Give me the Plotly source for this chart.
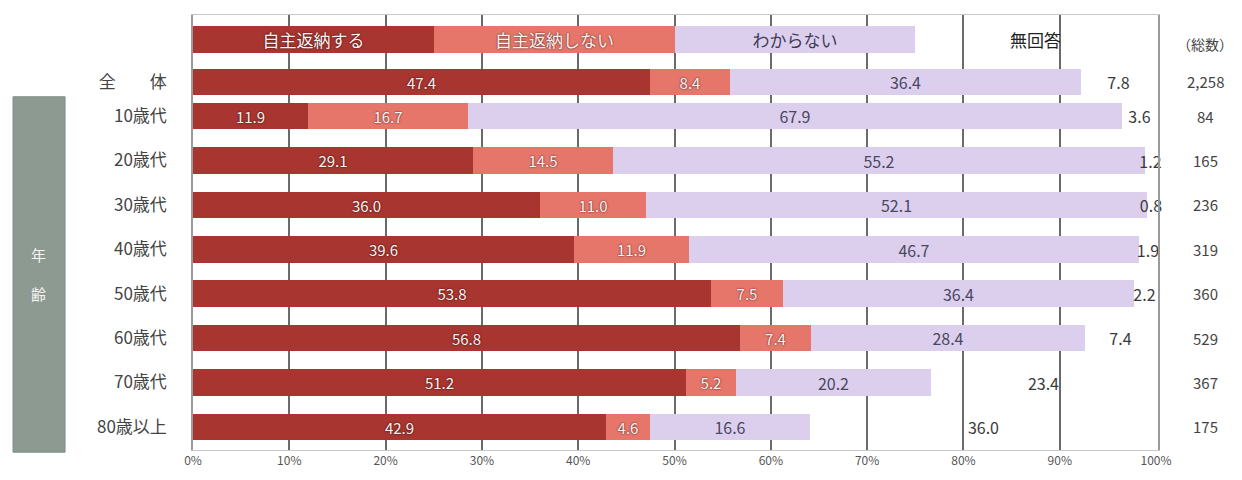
import plotly.graph_objects as go

# ---------------- data ----------------
categories = ["全　　体", "10歳代", "20歳代", "30歳代", "40歳代", "50歳代", "60歳代", "70歳代", "80歳以上"]
series_names = ["自主返納する", "自主返納しない", "わからない", "無回答"]
return_yes = [47.4, 11.9, 29.1, 36.0, 39.6, 53.8, 56.8, 51.2, 42.9]
return_no = [8.4, 16.7, 14.5, 11.0, 11.9, 7.5, 7.4, 5.2, 4.6]
unknown = [36.4, 67.9, 55.2, 52.1, 46.7, 36.4, 28.4, 20.2, 16.6]
no_answer = [7.8, 3.6, 1.2, 0.8, 1.9, 2.2, 7.4, 23.4, 36.0]
totals = ["2,258", "84", "165", "236", "319", "360", "529", "367", "175"]
x_ticks = [0, 10, 20, 30, 40, 50, 60, 70, 80, 90, 100]
x_tick_labels = ["0%", "10%", "20%", "30%", "40%", "50%", "60%", "70%", "80%", "90%", "100%"]

# ---------------- layout helpers ----------------
legend_row = -1.73          # position of the in-chart legend row
overall_row = -0.77         # position of the 全体 row
row_pos = [overall_row] + list(range(len(categories) - 1))
legend_share = 100 / len(series_names)
inner_grid = x_ticks[1:-1]

FONT = "Noto Sans CJK JP"
colors = ["#a8352f", "#e6766a", "#dccfee", "rgba(0,0,0,0)"]
value_font_colors = ["#fbf4f4", "#fbf4f4", "#4a4760", "#3a3a3a"]
value_sizes = [15, 15, 16, 16]
legend_font_colors = ["#fbf4f4", "#fbf4f4", "#3f3c55", "#222222"]
shadows = ["0px 0px 2px #2a0808", "0px 0px 2px #3a1010", "none", "none"]

fig = go.Figure()
all_values = [return_yes, return_no, unknown, no_answer]
for k, (name, vals) in enumerate(zip(series_names, all_values)):
    xs = [legend_share] + vals
    ys = [legend_row] + row_pos
    texts = [name] + [f"{v:.1f}" for v in vals]
    fcolors = [legend_font_colors[k]] + [value_font_colors[k]] * len(vals)
    fsizes = [17] + [value_sizes[k]] * len(vals)
    fig.add_trace(go.Bar(
        x=xs, y=ys, orientation="h", name=name,
        marker=dict(color=colors[k], line=dict(width=0)),
        width=0.6,
        text=texts, texttemplate="%{text}",
        textposition="inside", insidetextanchor="middle", textangle=0,
        constraintext="none",
        insidetextfont=dict(color=fcolors, size=fsizes,
                            family=FONT, shadow=shadows[k]),
        hoverinfo="skip", showlegend=False, cliponaxis=False,
    ))

annotations = []
for y, t in zip(row_pos, totals):
    annotations.append(dict(x=1.049, xref="paper", y=y, yref="y", text=t,
                            xanchor="center", showarrow=False,
                            font=dict(size=15, color="#444", family=FONT)))
annotations.append(dict(x=1.049, xref="paper", y=legend_row, yref="y", yshift=-5,
                        xanchor="center", text="（総数）", showarrow=False,
                        font=dict(size=14, color="#444", family=FONT)))
annotations.append(dict(x=-0.16, xref="paper", y=0.405, yref="paper",
                        xanchor="center", yanchor="middle",
                        text="年<br><br>齢", showarrow=False,
                        font=dict(size=15, color="#f4f4f4", family=FONT)))

fig.update_layout(
    width=1242, height=480,
    margin=dict(l=185, r=92, t=7, b=38),
    barmode="stack", bargap=0,
    plot_bgcolor="white", paper_bgcolor="white",
    font=dict(family=FONT, color="#444"),
    annotations=annotations,
    shapes=[dict(type="rect", xref="paper", yref="paper",
                 x0=-0.1865, x1=-0.1326, y0=-0.005, y1=0.812,
                 fillcolor="#8c9a92", line=dict(color="#7f8d85", width=1),
                 layer="below")],
)
fig.update_xaxes(range=[0, 100.2], tickvals=x_ticks, ticktext=x_tick_labels,
                 showgrid=False,
                 minor=dict(tickvals=inner_grid, showgrid=True,
                            gridcolor="#6a6a6a", gridwidth=1.5, ticks=""),
                 showline=True, linecolor="#c8c8c8", linewidth=1, mirror=True,
                 ticks="", tickfont=dict(size=12, color="#555"), zeroline=False,
                 fixedrange=True)
fig.update_yaxes(range=[7.52, -2.275], tickvals=row_pos, ticktext=categories,
                 showgrid=False, zeroline=False,
                 showline=True, linecolor="#9a9a9a", linewidth=1.5, mirror=True,
                 ticks="", ticklabelstandoff=21,
                 tickfont=dict(size=17, color="#444", family=FONT),
                 fixedrange=True)

fig.write_html("out.html")
